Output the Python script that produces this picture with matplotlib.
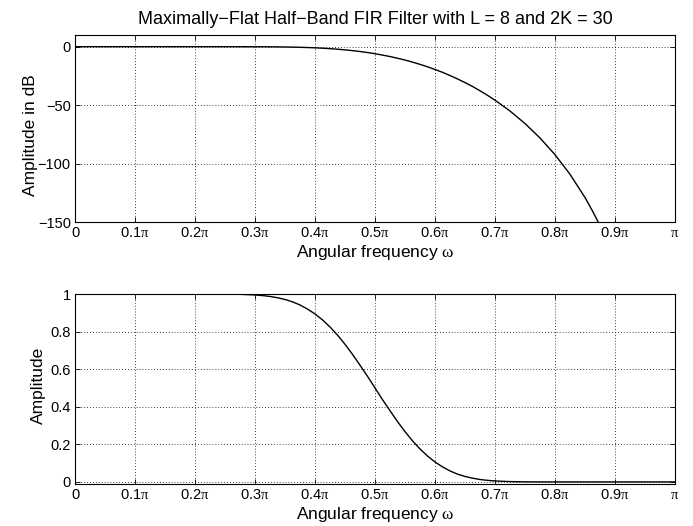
import matplotlib
matplotlib.use("Agg")
import matplotlib.pyplot as plt
import numpy as np

plt.rcParams["font.family"] = ["Liberation Sans", "DejaVu Sans"]
plt.rcParams["mathtext.fontset"] = "custom"
plt.rcParams["mathtext.rm"] = "Liberation Serif"
plt.rcParams["mathtext.it"] = "Liberation Serif:italic"

# frequency samples in units of pi
w_over_pi = [0.0, 0.1, 0.15, 0.2, 0.225, 0.25, 0.275, 0.3, 0.3125, 0.325, 0.3375, 0.35,
             0.3625, 0.375, 0.3875, 0.4, 0.4125, 0.425, 0.4375, 0.45, 0.4625, 0.475,
             0.4875, 0.5, 0.5125, 0.525, 0.5375, 0.55, 0.5625, 0.575, 0.5875, 0.6,
             0.6125, 0.625, 0.6375, 0.65, 0.6625, 0.675, 0.6875, 0.7, 0.725, 0.75,
             0.775, 0.8, 0.825, 0.85, 0.8625, 0.875]

# magnitude (linear) for the lower panel
amp = [1.0, 1.0, 1.0, 1.0, 0.99988, 0.99948, 0.99823, 0.99485, 0.99167, 0.98698,
       0.98009, 0.97084, 0.95836, 0.9415, 0.9199, 0.8939, 0.8621, 0.8246, 0.7812,
       0.7323, 0.6788, 0.621, 0.5622, 0.5, 0.4378, 0.379, 0.3212, 0.2677, 0.2188,
       0.1754, 0.1379, 0.1061, 0.0801, 0.0585, 0.0416, 0.0292, 0.0199, 0.0130,
       0.0083, 0.0052, 0.0018, 0.0005, 0.0001, 0.0, 0.0, 0.0, 0.0, 0.0]
amp_tail_w = [0.9, 1.0]
amp_tail = [0.0, 0.0]

# magnitude in dB for the upper panel
gain_db = [0.0, 0.0, 0.0, 0.0, 0.0, -0.005, -0.015, -0.045, -0.073, -0.114, -0.175,
           -0.257, -0.369, -0.523, -0.725, -0.975, -1.289, -1.68, -2.145, -2.71,
           -3.365, -4.14, -5.00, -6.02, -7.18, -8.43, -9.87, -11.45, -13.20, -15.12,
           -17.21, -19.49, -21.93, -24.66, -27.61, -30.70, -34.02, -37.71, -41.59,
           -45.76, -55.04, -65.75, -78.10, -92.41, -109.16, -129.04, -140.6, -153.0]

xtick_vals = [0, 0.1, 0.2, 0.3, 0.4, 0.5, 0.6, 0.7, 0.8, 0.9, 1.0]
xtick_labels = ["0"] + [f"{v:.1f}" + r"$\mathrm{\pi}$" for v in xtick_vals[1:-1]] + [r"$\mathrm{\pi}$"]
title = "Maximally\u2212Flat Half\u2212Band FIR Filter with L = 8 and 2K = 30"

W, H = 693, 526
fig = plt.figure(figsize=(W / 100, H / 100), dpi=100)
ax1 = fig.add_axes([75 / W, 1 - 222 / H, 600 / W, 187 / H])
ax2 = fig.add_axes([75 / W, 1 - 484 / H, 600 / W, 190 / H])

x = np.array(w_over_pi) * np.pi


def style(ax):
    ax.set_xlim(0, np.pi)
    ax.set_xticks(np.array(xtick_vals) * np.pi)
    ax.set_xticklabels(xtick_labels)
    ax.tick_params(direction="in", top=True, right=True, length=3.5, width=0.6,
                   labelsize=10.5, pad=3)
    ax.grid(True, color="black", linestyle=(0, (1, 2.5)), linewidth=0.6)
    for sp in ax.spines.values():
        sp.set_linewidth(0.8)
    ax.set_xlabel(r"Angular frequency $\mathrm{\omega}$", fontsize=12.5, labelpad=2)


ax1.plot(x, gain_db, color="black", linewidth=1.0)
ax1.set_ylim(-150, 10)
ax1.set_yticks([-150, -100, -50, 0])
style(ax1)
ax1.set_ylabel("Amplitude in dB", fontsize=12.5)
ax1.yaxis.set_label_coords(-0.062, 0.465)
ax1.set_title(title, fontsize=13, pad=8)

ax2.plot(np.concatenate([x, np.array(amp_tail_w) * np.pi]), amp + amp_tail,
         color="black", linewidth=1.0)
ax2.set_ylim(-0.011, 1.0)
ax2.set_yticks([0, 0.2, 0.4, 0.6, 0.8, 1.0])
ax2.set_yticklabels(["0", "0.2", "0.4", "0.6", "0.8", "1"])
style(ax2)
ax2.set_ylabel("Amplitude", fontsize=12.5)
ax2.yaxis.set_label_coords(-0.049, 0.52)

fig.savefig("out.png", dpi=100)
